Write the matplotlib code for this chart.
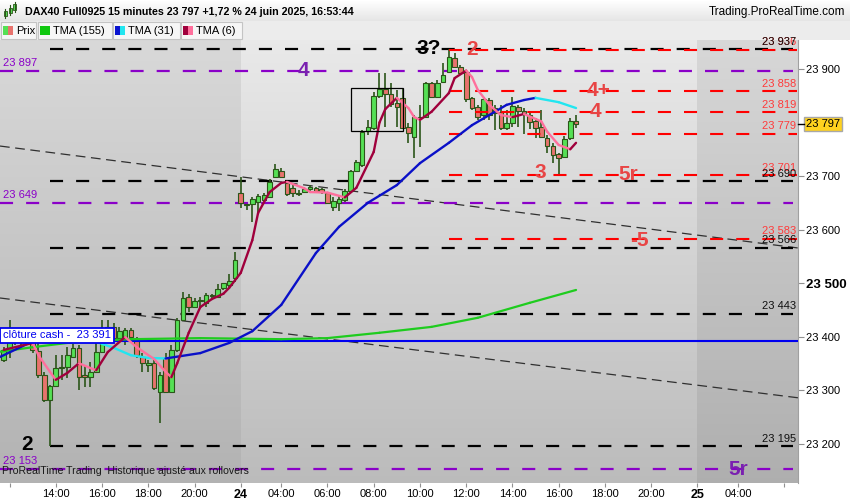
import matplotlib
matplotlib.use('Agg')
import matplotlib.pyplot as plt
import numpy as np
from matplotlib.patches import Rectangle
import matplotlib.transforms as mtransforms

plt.rcParams['font.family'] = ['Liberation Sans', 'DejaVu Sans']
plt.rcParams['lines.scale_dashes'] = False

# ---------------- data ----------------
bars = list(range(-9, 91))
opens = [23356, 23375, 23405, 23392, 23400, 23390, 23372, 23328, 23281,
         23308, 23341, 23343, 23362, 23379, 23328, 23324, 23334, 23371, 23400,
         23418, 23397, 23397, 23412, 23394, 23362, 23347, 23350, 23296, 23360,
         23296, 23375, 23431, 23474, 23455, 23466, 23463, 23476, 23474, 23491,
         23496, 23509, 23668, 23647, 23648, 23651, 23655, 23661, 23698, 23709,
         23687, 23678, 23668, 23670, 23676, 23678, 23676, 23668, 23642, 23650,
         23655, 23672, 23709, 23721, 23784, 23790, 23850, 23863, 23853, 23836,
         23846, 23792, 23773, 23808, 23810, 23874, 23848, 23876, 23894, 23921,
         23904, 23894, 23846, 23829, 23814, 23842, 23827, 23820, 23790, 23799,
         23829, 23822, 23814, 23803, 23792, 23771, 23756, 23741, 23736, 23771,
         23803]
highs = [23380, 23431, 23415, 23410, 23412, 23398, 23388, 23334, 23310,
         23365, 23365, 23380, 23386, 23384, 23347, 23352, 23407, 23431, 23431,
         23425, 23418, 23416, 23416, 23399, 23369, 23356, 23356, 23334, 23369,
         23384, 23435, 23483, 23479, 23472, 23474, 23481, 23479, 23498, 23500,
         23517, 23558, 23698, 23648, 23661, 23666, 23668, 23694, 23722, 23715,
         23689, 23683, 23674, 23680, 23683, 23680, 23678, 23670, 23661, 23663,
         23676, 23711, 23730, 23786, 23805, 23857, 23893, 23893, 23874, 23861,
         23863, 23799, 23814, 23833, 23876, 23876, 23879, 23911, 23937, 23930,
         23907, 23896, 23848, 23833, 23848, 23846, 23833, 23833, 23823, 23848,
         23833, 23827, 23818, 23808, 23823, 23777, 23762, 23743, 23775, 23808,
         23814]
lows = [23352, 23360, 23385, 23385, 23385, 23369, 23322, 23278, 23195,
        23306, 23319, 23322, 23360, 23300, 23306, 23306, 23332, 23369, 23395,
        23390, 23392, 23384, 23390, 23360, 23334, 23334, 23300, 23238, 23294,
        23294, 23371, 23431, 23446, 23453, 23455, 23455, 23472, 23472, 23487,
        23493, 23502, 23640, 23636, 23614, 23631, 23651, 23659, 23696, 23696,
        23663, 23661, 23663, 23668, 23668, 23668, 23666, 23648, 23635, 23635,
        23651, 23670, 23707, 23717, 23777, 23786, 23846, 23792, 23829, 23792,
        23790, 23762, 23734, 23754, 23808, 23846, 23846, 23874, 23893, 23902,
        23889, 23838, 23823, 23805, 23805, 23805, 23786, 23786, 23786, 23792,
        23792, 23779, 23788, 23771, 23771, 23743, 23724, 23701, 23734, 23767,
        23790]
closes = [23375, 23405, 23392, 23400, 23390, 23374, 23328, 23281, 23308,
          23341, 23343, 23365, 23379, 23324, 23324, 23334, 23371, 23412, 23418,
          23397, 23410, 23412, 23399, 23365, 23350, 23350, 23304, 23328, 23296,
          23375, 23431, 23472, 23455, 23466, 23468, 23478, 23477, 23489, 23500,
          23504, 23543, 23650, 23645, 23657, 23663, 23664, 23689, 23713, 23698,
          23666, 23668, 23667, 23676, 23680, 23672, 23670, 23650, 23653, 23657,
          23672, 23709, 23726, 23782, 23792, 23850, 23863, 23853, 23835, 23829,
          23790, 23780, 23810, 23810, 23874, 23848, 23874, 23889, 23922, 23904,
          23893, 23844, 23827, 23810, 23844, 23814, 23818, 23790, 23799, 23831,
          23822, 23818, 23801, 23790, 23773, 23756, 23739, 23734, 23769, 23803,
          23797]

tma155_bars = [-10, -4, 2, 7, 13, 25, 39, 47, 56, 65, 73, 82, 90]
tma155_vals = [23371, 23380, 23388, 23392, 23395, 23397, 23395, 23397, 23407,
               23418, 23435, 23463, 23487]

tma31_bars = [-10, -4, 7, 10, 13, 16, 19, 25, 30, 34, 39, 45, 49, 54, 59, 63,
              68, 72, 75, 78, 81, 83, 87, 90]
tma31_vals = [23360, 23391, 23390, 23379, 23365, 23360, 23359, 23369, 23388,
              23410, 23459, 23556, 23605, 23650, 23683, 23724, 23762, 23795,
              23814, 23833, 23842, 23846, 23838, 23827]

tma6_bars = [-9, -4, -3, -1, 0, 2, 4, 6, 7, 9, 12, 14, 17, 19, 20, 21, 23, 25,
             27, 29, 30, 32, 34, 35, 37, 39, 40, 43, 44, 47, 50, 52, 55, 56, 57,
             59, 61, 62, 63, 65, 68, 69, 71, 72, 73, 75, 77, 79, 81, 84, 85, 87,
             89, 90]
tma6_vals = [23375, 23388, 23365, 23334, 23319, 23332, 23350, 23341, 23337,
             23371, 23399, 23380, 23358, 23334, 23324, 23350, 23407, 23455,
             23470, 23480, 23491, 23519, 23580, 23631, 23670, 23687, 23689,
             23677, 23670, 23669, 23660, 23678, 23745, 23800, 23825, 23846,
             23827, 23810, 23805, 23820, 23855, 23883, 23897, 23885, 23861,
             23833, 23814, 23810, 23816, 23802, 23783, 23758, 23750, 23762]

black_levels = [23937, 23690, 23566, 23443, 23195]
red_levels = [23936, 23858, 23819, 23779, 23701, 23583]
purple_levels = [23897, 23649, 23153]
cash_close = 23391
black_start_bar = -1
red_start_bar = 68

session_starts = [32, 111]
xtick_bars = [-8, 0, 8, 16, 24, 32, 39, 47, 55, 63, 71, 79, 87, 95, 103, 111, 118, 126]
xtick_labels = ['', '14:00', '16:00', '18:00', '20:00', '24', '04:00', '06:00',
                '08:00', '10:00', '12:00', '14:00', '16:00', '18:00', '20:00',
                '25', '04:00', '']
ytick_vals = [23200, 23300, 23400, 23500, 23600, 23700, 23900]

trend_bars = [-9.65, 128.75]
trend_upper = [23756, 23565]
trend_lower = [23472, 23285]

box_bars = [51, 60]
box_prices = [23784, 23864]

ann_text = ['4', '3?', '2', '4+', '4', '3', '5r', '-5', '2', '5r']
ann_bar = [42.8, 64.6, 72.0, 93.9, 93.3, 83.9, 99.0, 100.9, -5.0, 118.0]
ann_price = [23898, 23939, 23937, 23859, 23820, 23706, 23702, 23580, 23199, 23151]
ann_color = ['purple', 'black', 'red', 'red', 'red', 'red', 'red', 'red', 'black', 'purple']

# ---------------- style ----------------
W, H = 850, 500
XLIM = (-9.65, 128.4)
YLIM = (23126.2, 23954.2)
GREEN = '#55e055'
RED = '#e8736d'
EDGE = '#2b5519'
C_RED_LINE = '#ff0000'
C_RED_TXT = '#ff3a3a'
C_ANN_RED = '#e84545'
C_PURPLE = '#8a00c8'
C_ANN_PURPLE = '#7a20b0'


def fx(x):
    return x / W


def fy(y):
    return 1 - y / H


def fmt(v):
    return f"{int(v):,}".replace(',', ' ')


fig = plt.figure(figsize=(8.5, 5), dpi=100)
fig.patch.set_facecolor('white')

# header band
hax = fig.add_axes([0, fy(21), 1, 21 / H])
hax.imshow(np.linspace(1.0, 0.90, 20).reshape(-1, 1, 1).repeat(3, axis=2),
           aspect='auto', extent=[0, 1, 0, 1], interpolation='bilinear')
hax.set_axis_off()
lax = fig.add_axes([0, fy(40), 1, 19 / H])
lax.set_facecolor('#ececec')
lax.set_xticks([]); lax.set_yticks([])
for s in lax.spines.values():
    s.set_visible(False)

# main axes
ax = fig.add_axes([0, fy(483), fx(798), fy(40) - fy(483)])
ax.set_xlim(*XLIM)
ax.set_ylim(*YLIM)

# background gradient bands
bands = [(XLIM[0], session_starts[0], 0.85, 0.70),
         (session_starts[0], session_starts[1], 0.915, 0.735),
         (session_starts[1], XLIM[1], 0.845, 0.685)]
for x0, x1, ctop, cbot in bands:
    g = np.linspace(ctop, cbot, 200).reshape(-1, 1, 1).repeat(3, axis=2)
    ax.imshow(g, aspect='auto', extent=[x0, x1, YLIM[0], YLIM[1]],
              interpolation='bilinear', zorder=0)
ax.set_xlim(*XLIM)
ax.set_ylim(*YLIM)

# trend lines
ax.plot(trend_bars, trend_upper, color='#303030', lw=0.9, dashes=(7, 4), zorder=2)
ax.plot(trend_bars, trend_lower, color='#303030', lw=0.9, dashes=(7, 4), zorder=2)

# horizontal levels
x_end = 127.5
for lv in purple_levels:
    ax.plot([XLIM[0], x_end], [lv, lv], color=C_PURPLE, lw=1.6, dashes=(9.4, 9.4), zorder=2)
for lv in black_levels:
    ax.plot([black_start_bar, x_end], [lv, lv], color='black', lw=1.6, dashes=(9.4, 9.4), zorder=2)
for lv in red_levels:
    ax.plot([red_start_bar, 128.3], [lv, lv], color=C_RED_LINE, lw=1.5, dashes=(9.4, 9.4), zorder=5)
ax.axhline(cash_close, color='#0000f0', lw=1.5, zorder=5)

# candles
for b, o, h, l, c in zip(bars, opens, highs, lows, closes):
    ax.vlines(b, l, h, color=EDGE, lw=1.2, zorder=3)
    lo, hi = min(o, c), max(o, c)
    fc = GREEN if c >= o else RED
    ax.add_patch(Rectangle((b - 0.4, lo), 0.8, max(hi - lo, 1.0), fc=fc, ec=EDGE,
                           lw=0.8, zorder=4))


def two_tone(xs, ys, up, down, lw):
    for i in range(len(xs) - 1):
        col = up if ys[i + 1] > ys[i] else down
        ax.plot(xs[i:i + 2], ys[i:i + 2], color=col, lw=lw, solid_capstyle='round',
                solid_joinstyle='round', zorder=6)


two_tone(tma155_bars, tma155_vals, '#1ecc1e', '#1ecc1e', 1.6)
two_tone(tma31_bars, tma31_vals, '#0a10c8', '#22e6f0', 1.7)
two_tone(tma6_bars, tma6_vals, '#a0003c', '#ff6f9c', 1.7)

# box drawing
ax.add_patch(Rectangle((box_bars[0], box_prices[0]), box_bars[1] - box_bars[0],
                       box_prices[1] - box_prices[0], fill=False, ec='black', lw=0.9, zorder=7))

# annotations
colmap = {'purple': C_ANN_PURPLE, 'black': 'black', 'red': C_ANN_RED}
for t, b, p, c in zip(ann_text, ann_bar, ann_price, ann_color):
    ax.text(b, p, t, color=colmap[c], fontsize=15, fontweight='bold',
            ha='center', va='center', zorder=8)

# right-end value labels
blend = mtransforms.blended_transform_factory(ax.transAxes, ax.transData)
for lv in red_levels:
    ax.annotate(fmt(lv), xy=(1, lv), xycoords=blend, xytext=(-2, 2.5),
                textcoords='offset pixels', ha='right', va='bottom', fontsize=8,
                color=C_RED_TXT, zorder=9)
for lv in black_levels:
    ax.annotate(fmt(lv), xy=(1, lv), xycoords=blend, xytext=(-2, 2.5),
                textcoords='offset pixels', ha='right', va='bottom', fontsize=8,
                color='#101010', zorder=9)
for lv in purple_levels:
    ax.annotate(fmt(lv), xy=(0, lv), xycoords=blend, xytext=(3, 3),
                textcoords='offset pixels', ha='left', va='bottom', fontsize=8,
                color=C_PURPLE, zorder=9)

ax.annotate(f"clôture cash -  {fmt(cash_close)}", xy=(0, cash_close), xycoords=blend,
            xytext=(3, 6), textcoords='offset pixels', ha='left', va='center',
            fontsize=8, color='#0000f0', zorder=10,
            bbox=dict(boxstyle='square,pad=0.25', fc='white', ec='#0000f0', lw=1.3))

# footer text
ax.text(0.003, 0.015, 'ProRealTime Trading  Historique ajusté aux rollovers',
        transform=ax.transAxes, fontsize=7.6, color='#1a1a1a', ha='left', va='bottom', zorder=10)

# axes styling
for k, s in ax.spines.items():
    s.set_visible(k == 'right')
ax.spines['right'].set_color('#a0a0a0')
ax.yaxis.tick_right()
ax.set_yticks(ytick_vals)
ax.set_yticklabels([fmt(v) for v in ytick_vals])
ax.tick_params(axis='y', direction='out', length=4, color='#909090', labelsize=8,
               pad=2, labelcolor='black')
for lab, v in zip(ax.get_yticklabels(), ytick_vals):
    if v % 500 == 0:
        lab.set_fontweight('bold')
        lab.set_fontsize(9.5)
ax.set_xticks(xtick_bars)
ax.set_xticklabels(xtick_labels)
ax.tick_params(axis='x', direction='out', length=3, color='#909090', labelsize=8, pad=1.5)
for lab, t in zip(ax.get_xticklabels(), xtick_labels):
    if len(t) == 2:
        lab.set_fontweight('bold')
        lab.set_fontsize(9)

# current price tag
ax.annotate(fmt(closes[-1]), xy=(1, closes[-1]), xycoords=blend, xytext=(8, 0),
            textcoords='offset pixels', ha='left', va='center', fontsize=8,
            annotation_clip=False, zorder=11,
            bbox=dict(boxstyle='square,pad=0.18', fc='#ffd21f', ec='#a8a8a8', lw=1))
ax.plot([1, 1.008], [closes[-1], closes[-1]], transform=blend, color='black', lw=1,
        clip_on=False, zorder=11)

# header texts
fig.text(fx(25), fy(12), 'DAX40 Full0925 15 minutes 23 797 +1,72 % 24 juin 2025, 16:53:44',
         fontsize=7.7, fontweight='bold', ha='left', va='center')
fig.text(fx(845), fy(12), 'Trading.ProRealTime.com', fontsize=8.5, ha='right', va='center')
# small icon
for cx, b0, b1, w0, w1 in [(5, 11, 16, 9, 18), (10, 8, 13, 5, 15), (15, 4, 10, 2, 12)]:
    fig.add_artist(plt.Line2D([fx(cx), fx(cx)], [fy(w0), fy(w1)], color=EDGE, lw=0.8))
    fig.add_artist(Rectangle((fx(cx - 1.5), fy(b1)), fx(3), fy(b0) - fy(b1), fc=GREEN,
                             ec=EDGE, lw=0.6, transform=fig.transFigure))

# legend boxes
legend = [(1, 36, 'Prix', (GREEN, RED)),
          (38, 112, 'TMA (155)', ('#10c810', '#10c810')),
          (113, 180, 'TMA (31)', ('#0a14d0', '#22e6f0')),
          (181, 242, 'TMA (6)', ('#a0003c', '#ff6f9c'))]
for x0, x1, txt, cols in legend:
    fig.add_artist(Rectangle((fx(x0), fy(39)), fx(x1 - x0), fy(22) - fy(39), fc='#f6f6f6',
                             ec='#c4c4c4', lw=0.8, transform=fig.transFigure))
    fig.add_artist(Rectangle((fx(x0 + 2), fy(35)), fx(5), fy(26) - fy(35), fc=cols[0],
                             ec='none', transform=fig.transFigure))
    fig.add_artist(Rectangle((fx(x0 + 7), fy(35)), fx(5), fy(26) - fy(35), fc=cols[1],
                             ec='none', transform=fig.transFigure))
    fig.text(fx(x0 + 15), fy(30.5), txt, fontsize=8, ha='left', va='center')

fig.savefig('out.png', dpi=100)
